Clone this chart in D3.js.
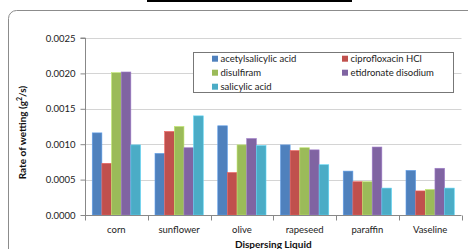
<!DOCTYPE html>
<html><head><meta charset="utf-8">
<script src="https://cdn.jsdelivr.net/npm/d3@7"></script>
<style>body{margin:0;background:#fff;}svg{display:block;}</style>
</head><body>
<svg id="c" width="468" height="249"></svg>
<script>
const categories = ["corn","sunflower","olive","rapeseed","paraffin","Vaseline"];
const seriesNames = ["acetylsalicylic acid","ciprofloxacin HCl","disulfiram","etidronate disodium","salicylic acid"];
const acetylsalicylic = [0.00116, 0.00087, 0.00126, 0.00099, 0.00062, 0.00063];
const ciprofloxacin = [0.00073, 0.00118, 0.00060, 0.00091, 0.00047, 0.00034];
const disulfiram = [0.00201, 0.00125, 0.00099, 0.00095, 0.00047, 0.00036];
const etidronate = [0.00202, 0.00095, 0.00108, 0.00092, 0.00096, 0.00066];
const salicylic = [0.00099, 0.00140, 0.00098, 0.00071, 0.00038, 0.00038];
const yTicks = [0, 0.0005, 0.001, 0.0015, 0.002, 0.0025];
const colors = ["#4F81BD","#C0504D","#9BBB59","#8064A2","#4BACC6"];
const seriesValues = [acetylsalicylic, ciprofloxacin, disulfiram, etidronate, salicylic];

const svg = d3.select("#c");
const font = "Lato, 'Liberation Sans', sans-serif";

// top black line
svg.append("rect").attr("x",147).attr("y",0).attr("width",205).attr("height",2).attr("fill","#000");
// chart frame
svg.append("rect").attr("x",8.5).attr("y",10.5).attr("width",480).attr("height",260)
  .attr("rx",8).attr("fill","#fff").attr("stroke","#8c8c8c").attr("stroke-width",1);

const L = 85, R = 461.5, T = 38, B = 215;
const x = d3.scaleBand().domain(categories).range([L, R]).padding(0);
const y = d3.scaleLinear().domain([0, 0.0025]).range([B, T]);
const bw = x.bandwidth();
const xs = d3.scaleBand().domain(seriesNames).range([bw*0.75/6.5, bw - bw*0.75/6.5]).padding(0);

// gridlines
svg.append("g").selectAll("line").data(yTicks.slice(1)).join("line")
  .attr("x1", L).attr("x2", R).attr("y1", d => Math.round(y(d))+0.5).attr("y2", d => Math.round(y(d))+0.5)
  .attr("stroke", "#d4d4d4").attr("stroke-width", 1);

// bars
const data = [];
categories.forEach((c, i) => seriesNames.forEach((s, j) => data.push({c, s, j, v: seriesValues[j][i]})));
svg.append("g").selectAll("rect").data(data).join("rect")
  .attr("x", d => x(d.c) + xs(d.s))
  .attr("width", xs.bandwidth())
  .attr("y", d => y(d.v))
  .attr("height", d => B - y(d.v))
  .attr("fill", d => colors[d.j])
  .attr("stroke", d => d3.color(colors[d.j]).brighter(0.6))
  .attr("stroke-width", 0.6);

// y axis
const yAxis = d3.axisLeft(y).tickValues(yTicks).tickFormat(d3.format(".4f")).tickSize(5).tickPadding(5);
const gy = svg.append("g").attr("transform", `translate(${L+0.5},0)`).call(yAxis);
gy.select(".domain").attr("stroke", "#888").attr("d", `M-5,${T}H0V${B}`);
gy.selectAll(".tick line").attr("stroke", "#888");
gy.selectAll(".tick text").attr("fill", "#222").style("font-family", font).style("font-size", "9.5px");

// x axis
const gx = svg.append("g").attr("transform", `translate(0,${B+0.5})`);
gx.append("line").attr("x1", L).attr("x2", R).attr("stroke", "#888");
const bounds = categories.map(c => x(c)).concat([R]);
gx.selectAll("line.t").data(bounds).join("line").attr("class","t")
  .attr("x1", d => Math.round(d)+0.5).attr("x2", d => Math.round(d)+0.5).attr("y1", 0).attr("y2", 5).attr("stroke", "#888");
gx.selectAll("text").data(categories).join("text")
  .attr("x", d => x(d) + bw/2).attr("y", 17)
  .attr("text-anchor", "middle").attr("fill", "#222")
  .style("font-family", font).style("font-size", "9.5px").text(d => d);

// axis titles
svg.append("text").attr("x", (L+R)/2).attr("y", 248)
  .attr("text-anchor", "middle").attr("fill", "#111")
  .style("font-family", font).style("font-size", "10px").style("font-weight", "bold").text("Dispersing Liquid");
svg.append("text").attr("transform", `translate(26,132.5) rotate(-90)`)
  .attr("text-anchor", "middle").attr("fill", "#111")
  .style("font-family", font).style("font-size", "10px").style("font-weight", "bold")
  .html('Rate of wetting (g<tspan baseline-shift="super" font-size="7px">2</tspan>/s)');

// legend
const lg = svg.append("g");
lg.append("rect").attr("x", 193.5).attr("y", 52.5).attr("width", 260).attr("height", 40)
  .attr("fill", "#fff").attr("stroke", "#777");
const cols = [212, 342];
const textX = [220.5, 350.5];
const rows = [58.7, 72.7, 86.7];
seriesNames.forEach((s, j) => {
  const col = j % 2, row = Math.floor(j / 2);
  lg.append("rect").attr("x", cols[col]).attr("y", rows[row]-3).attr("width", 6).attr("height", 6).attr("fill", colors[j]);
  lg.append("text").attr("x", textX[col]).attr("y", rows[row]).attr("dy", "0.35em")
    .attr("fill", "#222").style("font-family", font).style("font-size", "9.5px").text(s);
});
</script>
</body></html>
